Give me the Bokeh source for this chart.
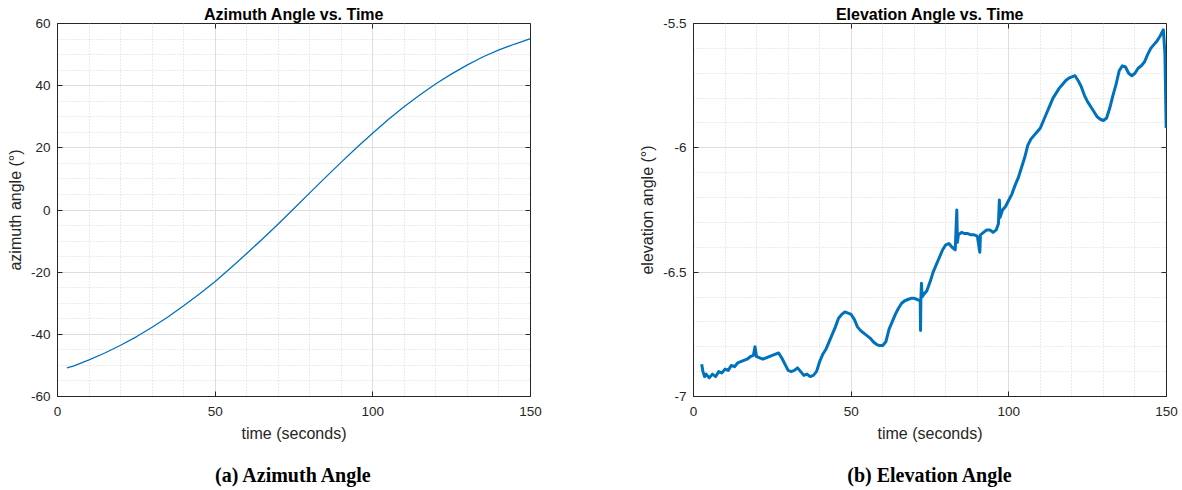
from bokeh.plotting import figure
from bokeh.layouts import row
from bokeh.models import (FixedTicker, LinearAxis, Range1d, ColumnDataSource)
from bokeh.embed import file_html
from bokeh.resources import INLINE

# ---------------- data ----------------
az_time = [3, 5, 10, 15, 20, 25, 30, 35, 40, 45, 50, 55, 60, 65, 70, 75, 80, 85, 90,
           95, 100, 105, 110, 115, 120, 125, 130, 135, 140, 145, 150]
az_angle = [-50.8, -50.2, -48.2, -46.0, -43.5, -40.8, -37.7, -34.4, -30.8, -27.0, -23.0,
            -18.6, -14.0, -9.3, -4.5, 0.5, 5.5, 10.5, 15.4, 20.2, 24.8, 29.2, 33.3, 37.1,
            40.6, 43.8, 46.7, 49.3, 51.5, 53.4, 55.1]

el_time = [2.6, 3.0, 3.5, 4, 5, 6, 7, 8, 9, 10, 11, 12, 13, 14, 15, 16, 17, 18, 19, 19.5,
           20, 21, 22, 23, 24, 25, 26, 27, 28, 29, 30, 31, 32, 33, 34, 35, 36, 37, 38, 39,
           40, 41, 42, 43, 44, 45, 46, 47, 48, 49, 50, 51, 52, 53, 54, 55, 56, 57, 58, 59,
           60, 61, 62, 63, 64, 65, 66, 67, 68, 69, 70, 71, 71.9, 72.0, 72.1, 72.3, 72.5, 73,
           74, 75, 76, 77, 78, 79, 80, 81, 82, 83, 83.5, 83.7, 84, 85, 86, 87, 88, 89, 90,
           90.8, 91, 92, 93, 94, 95, 96, 96.7, 97, 97.2, 98, 99, 100, 101, 102, 103, 104,
           105, 106, 107, 108, 109, 110, 111, 112, 113, 114, 115, 116, 117, 118, 119, 120,
           121, 122, 123, 124, 125, 126, 127, 128, 129, 130, 131, 132, 133, 134, 135, 136,
           137, 138, 139, 140, 141, 142, 143, 144, 145, 146, 147, 148, 149, 149.5, 149.9]
el_angle = [-6.87, -6.90, -6.92, -6.91, -6.925, -6.91, -6.92, -6.90, -6.905, -6.89, -6.895,
            -6.875, -6.88, -6.865, -6.86, -6.855, -6.85, -6.84, -6.835, -6.80, -6.84, -6.845,
            -6.85, -6.845, -6.84, -6.835, -6.83, -6.825, -6.845, -6.87, -6.895, -6.90, -6.895,
            -6.885, -6.90, -6.915, -6.91, -6.92, -6.915, -6.90, -6.86, -6.83, -6.81, -6.78,
            -6.75, -6.72, -6.685, -6.67, -6.66, -6.665, -6.67, -6.69, -6.72, -6.735, -6.745,
            -6.755, -6.765, -6.78, -6.79, -6.795, -6.795, -6.78, -6.73, -6.70, -6.67, -6.645,
            -6.625, -6.615, -6.61, -6.605, -6.605, -6.61, -6.615, -6.735, -6.61, -6.545,
            -6.60, -6.59, -6.575, -6.54, -6.50, -6.47, -6.44, -6.41, -6.39, -6.385, -6.40,
            -6.41, -6.25, -6.38, -6.35, -6.34, -6.345, -6.345, -6.35, -6.35, -6.355, -6.42,
            -6.35, -6.34, -6.33, -6.33, -6.34, -6.33, -6.305, -6.21, -6.28, -6.25, -6.235,
            -6.21, -6.185, -6.15, -6.12, -6.08, -6.04, -5.99, -5.965, -5.95, -5.935, -5.92,
            -5.89, -5.86, -5.83, -5.80, -5.78, -5.76, -5.745, -5.73, -5.72, -5.715, -5.71,
            -5.73, -5.755, -5.79, -5.815, -5.835, -5.855, -5.875, -5.885, -5.89, -5.88, -5.84,
            -5.79, -5.745, -5.69, -5.67, -5.675, -5.70, -5.71, -5.70, -5.68, -5.67, -5.655,
            -5.625, -5.60, -5.585, -5.57, -5.55, -5.525, -5.62, -5.92]

time_ticks = [0, 50, 100, 150]
time_tick_labels = ["0", "50", "100", "150"]
az_ticks = [-60, -40, -20, 0, 20, 40, 60]
az_tick_labels = ["-60", "-40", "-20", "0", "20", "40", "60"]
el_ticks = [-7, -6.5, -6, -5.5]
el_tick_labels = ["-7", "-6.5", "-6", "-5.5"]

# ---------------- style ----------------
AX = "#262626"
LINE = "#0072BD"
GRID = "#dedede"
MINOR = "#d6d6d6"
SANS = "Liberation Sans"
H = 488
TOP = 23
FRAME_H = 373


def style_axis(ax, ticker, labels, ticks):
    ax.ticker = ticker
    ax.major_label_overrides = {t: l for t, l in zip(ticks, labels)}
    ax.axis_line_color = AX
    ax.major_tick_line_color = AX
    ax.major_tick_in = 5
    ax.major_tick_out = 0
    ax.minor_tick_in = 0
    ax.minor_tick_out = 0
    ax.minor_tick_line_color = None
    ax.major_label_text_font = SANS
    ax.major_label_text_font_size = "13.5px"
    ax.major_label_text_color = AX
    ax.major_label_standoff = 7
    ax.axis_label_text_font = SANS
    ax.axis_label_text_font_size = "16px"
    ax.axis_label_text_font_style = "normal"
    ax.axis_label_text_color = AX
    ax.axis_label_standoff = 4


def box_axis(p, ticker, side, loc):
    ax = LinearAxis(ticker=ticker, fixed_location=loc)
    ax.axis_line_color = None
    ax.major_tick_line_color = AX
    ax.major_tick_in = 5
    ax.major_tick_out = 0
    ax.minor_tick_line_color = None
    ax.major_label_text_color = None
    ax.major_label_standoff = 0
    p.add_layout(ax, side)


def caption_axis(p, caption):
    ax = LinearAxis(ticker=FixedTicker(ticks=[]), axis_label=caption)
    ax.axis_line_color = None
    ax.major_tick_line_color = None
    ax.minor_tick_line_color = None
    ax.major_tick_in = 0
    ax.major_tick_out = 0
    ax.minor_tick_in = 0
    ax.minor_tick_out = 0
    ax.major_label_standoff = 0
    ax.major_label_text_color = None
    ax.axis_label_standoff = 19
    ax.axis_label_text_font = "Liberation Serif"
    ax.axis_label_text_font_size = "20px"
    ax.axis_label_text_font_style = "bold"
    ax.axis_label_text_color = "black"
    p.add_layout(ax, "below")


def make_fig(width, b_left, b_right, xs, ys, yr, y_ticks, y_minor, y_labels,
             title, ylabel, caption, lw):
    p = figure(width=width, height=H, output_backend="svg", toolbar_location=None,
               x_range=Range1d(0, 150), y_range=Range1d(*yr),
               min_border_left=b_left, min_border_right=b_right,
               min_border_top=TOP, min_border_bottom=H - TOP - FRAME_H)
    p.background_fill_color = "white"
    p.border_fill_color = "white"
    p.outline_line_color = AX
    p.outline_line_width = 1

    p.title.text = title
    p.title.align = "center"
    p.title.text_font = SANS
    p.title.text_font_size = "16px"
    p.title.text_font_style = "bold"
    p.title.text_color = "black"
    p.title.standoff = 2

    xt = FixedTicker(ticks=time_ticks, minor_ticks=list(range(0, 151, 10)))
    yt = FixedTicker(ticks=y_ticks, minor_ticks=y_minor)

    style_axis(p.xaxis[0], xt, time_tick_labels, time_ticks)
    style_axis(p.yaxis[0], yt, y_labels, y_ticks)
    p.xaxis[0].axis_label = "time (seconds)"
    p.yaxis[0].axis_label = ylabel
    p.xaxis[0].major_label_standoff = 10
    p.xaxis[0].axis_label_standoff = 6

    box_axis(p, xt, "above", yr[1])
    box_axis(p, yt, "right", 150)
    caption_axis(p, caption)

    for g in (p.xgrid[0], p.ygrid[0]):
        g.grid_line_color = GRID
        g.grid_line_width = 1
        g.minor_grid_line_color = MINOR
        g.minor_grid_line_dash = "1 2"
        g.minor_grid_line_width = 1

    src = ColumnDataSource(dict(t=xs, v=ys))
    p.line("t", "v", source=src, line_color=LINE, line_width=lw, line_join="round")
    return p


az_minor = [v for v in range(-60, 61, 5)]
el_minor = [round(-7 + 0.1 * i, 1) for i in range(16)]

# left frame spans x 57..530, right frame 693..1166 (page pixels)
p1 = make_fig(600, 57, 70, az_time, az_angle, (-60, 60), az_ticks, az_minor, az_tick_labels,
              "Azimuth Angle vs. Time", "azimuth angle (°)", "(a) Azimuth Angle", 1.3)
p2 = make_fig(580, 93, 14, el_time, el_angle, (-7, -5.5), el_ticks, el_minor, el_tick_labels,
              "Elevation Angle vs. Time", "elevation angle (°)", "(b) Elevation Angle", 3.0)

layout = row(p1, p2, spacing=0)
open("out.html", "w").write(file_html(layout, INLINE))
